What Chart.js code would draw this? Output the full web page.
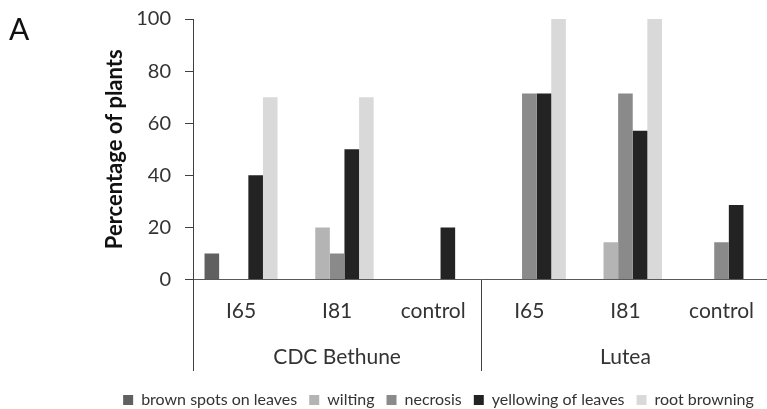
<!DOCTYPE html>
<html>
<head>
<meta charset="utf-8">
<script src="https://cdn.jsdelivr.net/npm/chart.js@4"></script>
<style>
  html, body { margin: 0; padding: 0; overflow: hidden; background: #fff; }
  #wrap { position: relative; width: 767px; height: 409px; overflow: hidden; }
  #panel { position: absolute; left: 9px; top: 10px; font: 30px Lato, sans-serif; color: #111; }
</style>
</head>
<body>
<div id="wrap">
  <canvas id="chart" width="773" height="409"></canvas>
  <div id="panel">A</div>
</div>
<script>
// categories and groups
const categories = ['I65', 'I81', 'control', 'I65', 'I81', 'control'];
const groups = ['CDC Bethune', 'Lutea'];

// percentage of plants per symptom
const brownSpots   = [10, 0,  0,  0,    0,    0];
const wilting      = [0,  20, 0,  0,    14.3, 0];
const necrosis     = [0,  10, 0,  71.4, 71.4, 14.3];
const yellowing    = [40, 50, 20, 71.4, 57.1, 28.6];
const rootBrowning = [70, 70, 0,  100,  100,  0];

const yTicks = [0, 20, 40, 60, 80, 100];

const FONT = 'Lato';
const TEXT = '#333333';

// vertical divider lines under the x axis, between the two groups
const dividers = {
    id: 'dividers',
    afterDraw(chart) {
        const x = chart.scales.x;
        const x2 = chart.scales.x2;
        const ctx = chart.ctx;
        ctx.save();
        ctx.strokeStyle = '#404040';
        ctx.lineWidth = 1;
        [-0.5, 2.5, 5.5].forEach(v => {
            const px = Math.round(x.getPixelForValue(v)) + 0.5;
            ctx.beginPath();
            ctx.moveTo(px, chart.chartArea.bottom);
            ctx.lineTo(px, x2.bottom);
            ctx.stroke();
        });
        ctx.restore();
    }
};

// move the legend so it sits like in the original
const legendShift = {
    id: 'legendShift',
    afterLayout(chart) {
        const l = chart.legend;
        l.left += 52;
        l.right += 52;
        l.top += 9;
        l.bottom += 9;
    }
};

const ctx = document.getElementById('chart').getContext('2d');
new Chart(ctx, {
    type: 'bar',
    data: {
        labels: categories,
        datasets: [
            { label: 'brown spots on leaves', data: brownSpots, backgroundColor: '#606060' },
            { label: 'wilting', data: wilting, backgroundColor: '#b4b4b4' },
            { label: 'necrosis', data: necrosis, backgroundColor: '#8a8a8a' },
            { label: 'yellowing of leaves', data: yellowing, backgroundColor: '#232323' },
            { label: 'root browning', data: rootBrowning, backgroundColor: '#d9d9d9' }
        ]
    },
    options: {
        responsive: false,
        animation: false,
        datasets: { bar: { categoryPercentage: 0.76, barPercentage: 1, borderWidth: 0 } },
        layout: { padding: { top: 19, left: 0, right: 0, bottom: 0 } },
        plugins: {
            legend: {
                position: 'bottom',
                labels: {
                    boxWidth: 10, boxHeight: 10, padding: 12,
                    color: TEXT, font: { family: FONT, size: 16 }
                }
            },
            tooltip: { enabled: false }
        },
        scales: {
            x: {
                offset: true,
                grid: { display: false, drawTicks: false },
                border: { display: true, color: '#595959' },
                ticks: { color: TEXT, padding: 19, font: { family: FONT, size: 21 } }
            },
            x2: {
                type: 'category',
                position: 'bottom',
                labels: groups,
                offset: true,
                grid: { display: false, drawTicks: false },
                border: { display: false },
                ticks: { color: TEXT, padding: 1.5, font: { family: FONT, size: 21 } }
            },
            y: {
                min: 0,
                max: 100,
                afterBuildTicks: scale => { scale.ticks = yTicks.map(v => ({ value: v })); },
                afterFit: scale => { scale.width = 193; scale.paddingTop = 0; },
                grid: { drawOnChartArea: false, drawTicks: true, tickLength: 8, color: '#404040' },
                border: { display: true, color: '#404040' },
                ticks: { color: TEXT, padding: 14, font: { family: FONT, size: 20 } },
                title: {
                    display: true,
                    text: 'Percentage of plants',
                    color: '#111',
                    font: { family: FONT, size: 22, weight: 'bold' },
                    padding: { top: 102, bottom: 0 }
                }
            }
        }
    },
    plugins: [dividers, legendShift]
});
</script>
</body>
</html>
